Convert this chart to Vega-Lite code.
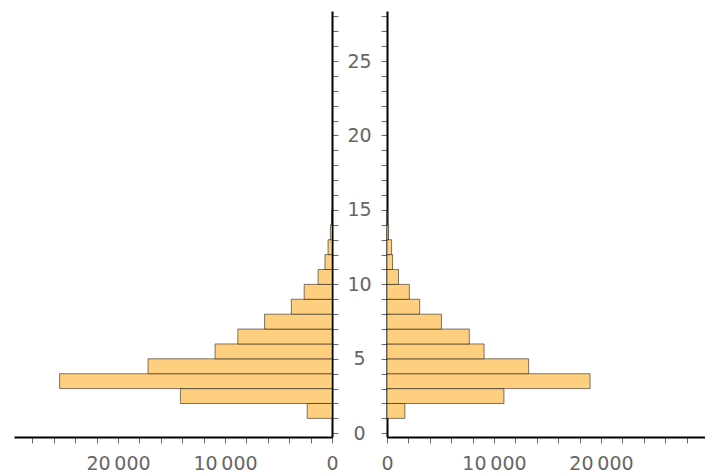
{
  "$schema": "https://vega.github.io/schema/vega-lite/v6.json",
  "padding": {"left": 14, "top": 7, "right": 0, "bottom": 0},
  "background": "white",
  "config": {
    "view": {"stroke": null},
    "axis": {
      "labelFont": "DejaVu Sans",
      "labelFontSize": 19,
      "labelColor": "#666666",
      "tickColor": "#666666",
      "tickWidth": 1,
      "domainColor": "#000000",
      "domainWidth": 2,
      "grid": false
    }
  },
  "datasets": {
    "left": [
      {"lo": 1, "hi": 2, "count": 2320},
      {"lo": 2, "hi": 3, "count": 14170},
      {"lo": 3, "hi": 4, "count": 25460},
      {"lo": 4, "hi": 5, "count": 17190},
      {"lo": 5, "hi": 6, "count": 10930},
      {"lo": 6, "hi": 7, "count": 8800},
      {"lo": 7, "hi": 8, "count": 6300},
      {"lo": 8, "hi": 9, "count": 3800},
      {"lo": 9, "hi": 10, "count": 2600},
      {"lo": 10, "hi": 11, "count": 1300},
      {"lo": 11, "hi": 12, "count": 660},
      {"lo": 12, "hi": 13, "count": 370},
      {"lo": 13, "hi": 14, "count": 150},
      {"lo": 14, "hi": 15, "count": 50}
    ],
    "right": [
      {"lo": 1, "hi": 2, "count": 1670},
      {"lo": 2, "hi": 3, "count": 10930},
      {"lo": 3, "hi": 4, "count": 18980},
      {"lo": 4, "hi": 5, "count": 13240},
      {"lo": 5, "hi": 6, "count": 9075},
      {"lo": 6, "hi": 7, "count": 7690},
      {"lo": 7, "hi": 8, "count": 5090},
      {"lo": 8, "hi": 9, "count": 3055},
      {"lo": 9, "hi": 10, "count": 2090},
      {"lo": 10, "hi": 11, "count": 1075},
      {"lo": 11, "hi": 12, "count": 520},
      {"lo": 12, "hi": 13, "count": 430},
      {"lo": 13, "hi": 14, "count": 150},
      {"lo": 14, "hi": 15, "count": 40}
    ]
  },
  "spacing": 55,
  "bounds": "flush",
  "hconcat": [
    {
      "data": {"name": "left"},
      "width": 318,
      "height": 426,
      "mark": {"type": "rect", "fill": "#FECF7F", "stroke": "#000000", "strokeOpacity": 0.5, "strokeWidth": 1},
      "encoding": {
        "x": {
          "field": "count", "type": "quantitative",
          "scale": {"domain": [0, 29720], "reverse": true, "nice": false, "zero": false},
          "axis": {
            "title": null,
            "values": [0, 2000, 4000, 6000, 8000, 10000, 12000, 14000, 16000, 18000, 20000, 22000, 24000, 26000, 28000],
            "labelExpr": "datum.value == 0 ? '0' : datum.value == 10000 ? '10\u2009000' : datum.value == 20000 ? '20\u2009000' : ''",
            "labelOverlap": false,
            "labelFlush": false,
            "labelBound": false,
            "labelPadding": 11,
            "tickSize": 6,
            "encode": {"ticks": {"update": {"y2": {"signal": "datum.value % 10000 === 0 ? 9 : 6"}}}}
          }
        },
        "x2": {"datum": 0},
        "y": {
          "field": "lo", "type": "quantitative",
          "scale": {"domain": [-0.25, 28.36], "nice": false, "zero": false},
          "axis": {
            "title": null,
            "orient": "right",
            "values": [0,1,2,3,4,5,6,7,8,9,10,11,12,13,14,15,16,17,18,19,20,21,22,23,24,25,26,27,28],
            "labels": false,
            "tickSize": 6,
            "encode": {"ticks": {"update": {"x2": {"signal": "datum.value % 5 === 0 ? 9 : 6"}}}}
          }
        },
        "y2": {"field": "hi"}
      }
    },
    {
      "data": {"name": "right"},
      "width": 318,
      "height": 426,
      "mark": {"type": "rect", "fill": "#FECF7F", "stroke": "#000000", "strokeOpacity": 0.5, "strokeWidth": 1},
      "encoding": {
        "x": {
          "field": "count", "type": "quantitative",
          "scale": {"domain": [0, 29720], "nice": false, "zero": false},
          "axis": {
            "title": null,
            "values": [0, 2000, 4000, 6000, 8000, 10000, 12000, 14000, 16000, 18000, 20000, 22000, 24000, 26000, 28000],
            "labelExpr": "datum.value == 0 ? '0' : datum.value == 10000 ? '10\u2009000' : datum.value == 20000 ? '20\u2009000' : ''",
            "labelOverlap": false,
            "labelFlush": false,
            "labelBound": false,
            "labelPadding": 11,
            "tickSize": 6,
            "encode": {"ticks": {"update": {"y2": {"signal": "datum.value % 10000 === 0 ? 9 : 6"}}}}
          }
        },
        "x2": {"datum": 0},
        "y": {
          "field": "lo", "type": "quantitative",
          "scale": {"domain": [-0.25, 28.36], "nice": false, "zero": false},
          "axis": {
            "title": null,
            "orient": "left",
            "values": [0,1,2,3,4,5,6,7,8,9,10,11,12,13,14,15,16,17,18,19,20,21,22,23,24,25,26,27,28],
            "labelExpr": "datum.value % 5 === 0 ? datum.label : ''",
            "labelAlign": "center",
            "labelPadding": 22,
            "labelOverlap": false,
            "labelBound": false,
            "labelFlush": false,
            "tickSize": 6,
            "encode": {"ticks": {"update": {"x2": {"signal": "datum.value % 5 === 0 ? -9 : -6"}}}}
          }
        },
        "y2": {"field": "hi"}
      }
    }
  ]
}
